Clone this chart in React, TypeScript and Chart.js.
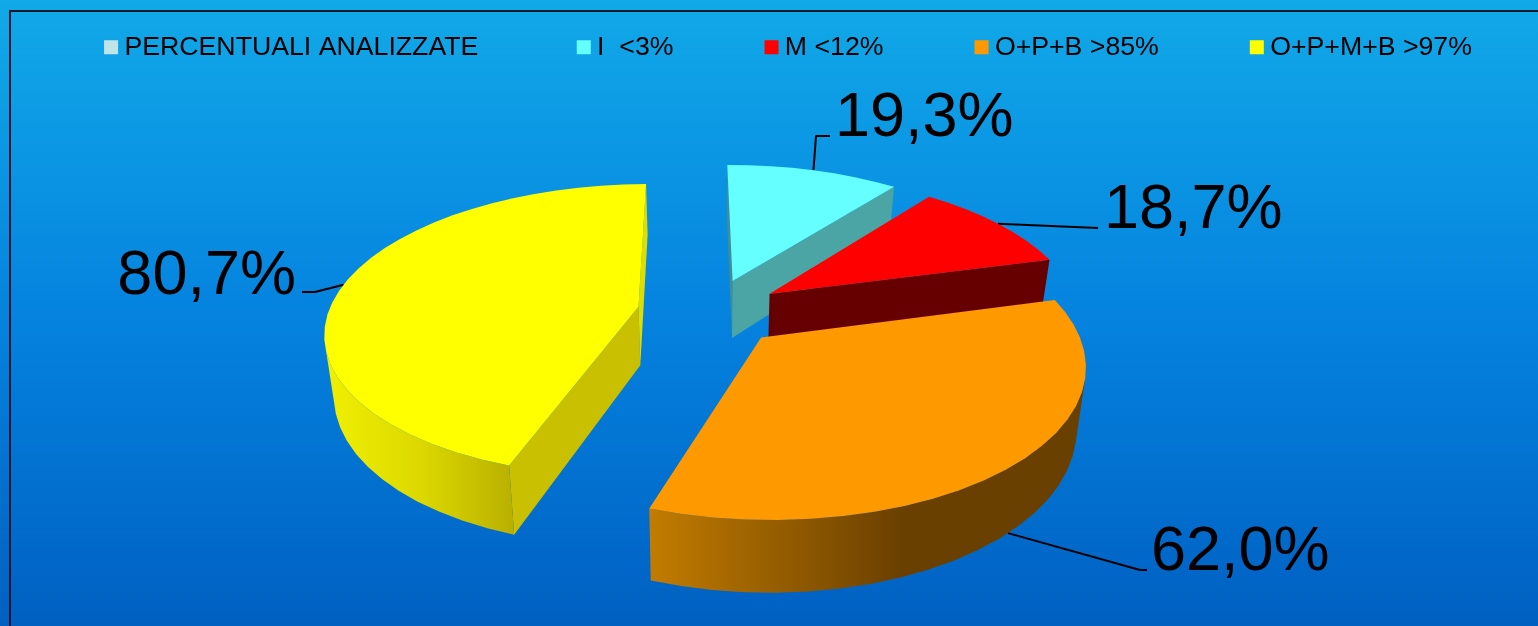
import React, { useEffect, useRef } from "react";
import { Chart, registerables } from "chart.js";

Chart.register(...registerables);

// Chart data
const categories = ["PERCENTUALI ANALIZZATE ", "I  <3%", "M <12%", "O+P+B >85%", "O+P+M+B >97%"];
const shares = [0, 19.3, 18.7, 62.0, 80.7];

// Slice colours
const topColors = ["#C0E4E8", "#66FFFF", "#FF0000", "#FF9900", "#FFFF00"];
const startFaceColors = ["#C0E4E8", "#3F8F93", "#660000", "#A86800", "#C8C000"];
const endFaceColors = ["#C0E4E8", "#4BA5A5", "#660000", "#A86800", "#DDDD00"];
const rimStops: [number, string][][] = [
  [[0, "#C0E4E8"], [1, "#C0E4E8"]],
  [[0, "#4BA5A5"], [1, "#4BA5A5"]],
  [[0, "#880000"], [1, "#660000"]],
  [[0, "#C27C00"], [0.58, "#6A4000"], [1, "#6A4000"]],
  [[0, "#F0F000"], [0.5, "#DCD800"], [1, "#B8B000"]],
];

// Projection of the pie plane onto the canvas
const view = {
  cx: 710,
  cy: 312,
  radiusX: 310,
  radiusY: 144,
  perspective: 0.161,
  depth: 59,
  taper: 0.025,
  explode: 0.235,
  rimSteps: 72,
  rotation: -0.5,
};

// Leader line bends and value label anchors, one per slice
const leaderBends: [number, number][][] = [
  [],
  [[816, 136], [830, 136]],
  [[1098, 228]],
  [[1140, 570], [1147, 570]],
  [[315, 292], [302, 292]],
];
const leaderDepths = [0, 0, 0, 1, 0];
const labelAnchors: [number, number, CanvasTextAlign][] = [
  [0, 0, "left"],
  [835, 136, "left"],
  [1104, 228, "left"],
  [1151, 570, "left"],
  [296, 294, "right"],
];

const FONT = '"Liberation Sans", Arial, sans-serif';

type Pt = [number, number];

function project(x: number, y: number, z: number): Pt {
  const w = 1 / (1 - view.perspective * y);
  return [
    view.cx + view.radiusX * x * w * (1 - view.taper * z),
    view.cy + view.radiusY * y * w + view.depth * z * w,
  ];
}

function trace(ctx: CanvasRenderingContext2D, pts: Pt[]) {
  ctx.beginPath();
  pts.forEach((p, i) => (i ? ctx.lineTo(p[0], p[1]) : ctx.moveTo(p[0], p[1])));
  ctx.closePath();
}

function area(pts: Pt[]) {
  let sum = 0;
  pts.forEach((p, i) => {
    const q = pts[(i + 1) % pts.length];
    sum += p[0] * q[1] - q[0] * p[1];
  });
  return sum / 2;
}

function sliceGeometry(arc: any) {
  const { startAngle, endAngle } = arc.getProps(["startAngle", "endAngle"], true);
  const mid = (startAngle + endAngle) / 2;
  const ox = view.explode * Math.cos(mid);
  const oy = view.explode * Math.sin(mid);
  const rim: [number, number][] = [];
  const steps = Math.max(2, Math.ceil((view.rimSteps * (endAngle - startAngle)) / (2 * Math.PI)));
  for (let i = 0; i <= steps; i++) {
    const a = startAngle + ((endAngle - startAngle) * i) / steps;
    rim.push([ox + Math.cos(a), oy + Math.sin(a)]);
  }
  return { mid, ox, oy, rim, span: endAngle - startAngle };
}

const facePair = (a: [number, number], b: [number, number]): Pt[] => [
  project(a[0], a[1], 0),
  project(b[0], b[1], 0),
  project(b[0], b[1], 1),
  project(a[0], a[1], 1),
];

function drawSlice(ctx: CanvasRenderingContext2D, index: number, g: ReturnType<typeof sliceGeometry>) {
  const apex: [number, number] = [g.ox, g.oy];
  const first = g.rim[0];
  const last = g.rim[g.rim.length - 1];

  const startFace = facePair(apex, first);
  if (area(startFace) < 0) {
    trace(ctx, startFace);
    ctx.fillStyle = startFaceColors[index];
    ctx.fill();
  }

  const endFace = facePair(last, apex);
  if (area(endFace) < 0) {
    trace(ctx, endFace);
    ctx.fillStyle = endFaceColors[index];
    ctx.fill();
  }

  // The visible run of the curved outer wall
  const upper: Pt[] = [];
  const lower: Pt[] = [];
  for (let i = 0; i < g.rim.length - 1; i++) {
    if (area(facePair(g.rim[i], g.rim[i + 1])) < 0) {
      if (!upper.length) {
        upper.push(project(g.rim[i][0], g.rim[i][1], 0));
        lower.push(project(g.rim[i][0], g.rim[i][1], 1));
      }
      upper.push(project(g.rim[i + 1][0], g.rim[i + 1][1], 0));
      lower.push(project(g.rim[i + 1][0], g.rim[i + 1][1], 1));
    }
  }
  if (upper.length) {
    const outline = [...upper, ...lower.reverse()];
    const xs = outline.map((p) => p[0]);
    const shade = ctx.createLinearGradient(Math.min(...xs), 0, Math.max(...xs), 0);
    rimStops[index].forEach(([at, color]) => shade.addColorStop(at, color));
    trace(ctx, outline);
    ctx.fillStyle = shade;
    ctx.fill();
  }

  trace(ctx, [project(apex[0], apex[1], 0), ...g.rim.map((p) => project(p[0], p[1], 0))]);
  ctx.fillStyle = topColors[index];
  ctx.fill();
}

const backdrop = {
  id: "backdrop",
  beforeDraw(chart: any) {
    const { ctx, width, height } = chart;
    const fill = ctx.createLinearGradient(0, 0, 0, height);
    fill.addColorStop(0, "#11A9E8");
    fill.addColorStop(0.5, "#0583DF");
    fill.addColorStop(1, "#0060C2");
    ctx.save();
    ctx.fillStyle = fill;
    ctx.fillRect(0, 0, width, height);
    ctx.strokeStyle = "#06182E";
    ctx.lineWidth = 2;
    ctx.beginPath();
    ctx.moveTo(10, height);
    ctx.lineTo(10, 11);
    ctx.lineTo(width, 11);
    ctx.stroke();
    ctx.restore();
  },
};

// Keeps the legend row in its band although its item gap is wide
const legendBand = {
  id: "legendBand",
  afterLayout(chart: any) {
    const legend = chart.legend;
    legend.top = 34 - legend.options.labels.padding;
    legend.left = -37;
    legend.right = 1620;
  },
};

// Replaces the flat arcs with extruded slices seen in perspective
const solidPie = {
  id: "solidPie",
  beforeDatasetsDraw(chart: any) {
    const { ctx } = chart;
    const arcs = chart.getDatasetMeta(0).data;
    const slices = arcs
      .map((arc: any, index: number) => ({ index, g: sliceGeometry(arc) }))
      .filter((s: any) => s.g.span > 0);

    ctx.save();
    ctx.lineJoin = "round";

    slices.forEach(({ index, g }: any) => {
      const a = g.ox + Math.cos(g.mid);
      const b = g.oy + Math.sin(g.mid);
      const from = project(a, b, leaderDepths[index]);
      ctx.beginPath();
      ctx.moveTo(from[0], from[1]);
      leaderBends[index].forEach((p) => ctx.lineTo(p[0], p[1]));
      ctx.strokeStyle = "#000000";
      ctx.lineWidth = 2;
      ctx.stroke();
    });

    [...slices]
      .sort((s: any, t: any) => s.g.oy - t.g.oy)
      .forEach(({ index, g }: any) => drawSlice(ctx, index, g));

    ctx.fillStyle = "#000000";
    ctx.font = `63px ${FONT}`;
    ctx.textBaseline = "alphabetic";
    slices.forEach(({ index }: any) => {
      const [x, y, align] = labelAnchors[index];
      ctx.textAlign = align;
      ctx.fillText(`${shares[index].toFixed(1).replace(".", ",")}%`, x, y);
    });
    ctx.restore();
    return false;
  },
};

export default function App() {
  const canvasRef = useRef<HTMLCanvasElement | null>(null);

  useEffect(() => {
    const chart = new Chart(canvasRef.current!, {
      type: "pie",
      data: {
        labels: categories,
        datasets: [{ data: shares, backgroundColor: topColors, borderWidth: 0 }],
      },
      options: {
        responsive: false,
        animation: false,
        rotation: view.rotation,
        layout: { padding: { left: -30, right: -30 } },
        plugins: {
          tooltip: { enabled: false },
          legend: {
            position: "top",
            labels: {
              color: "#000000",
              font: { family: FONT, size: 26.7 },
              boxWidth: 0.01,
              boxHeight: 14,
              usePointStyle: true,
              pointStyle: "rect",
              padding: 98,
            },
          },
        },
      },
      plugins: [backdrop, legendBand, solidPie],
    } as any);
    return () => chart.destroy();
  }, []);

  return (
    <div style={{ position: "absolute", left: 0, top: 0, width: 1538, height: 626 }}>
      <canvas ref={canvasRef} width={1538} height={626} style={{ display: "block" }} />
    </div>
  );
}
